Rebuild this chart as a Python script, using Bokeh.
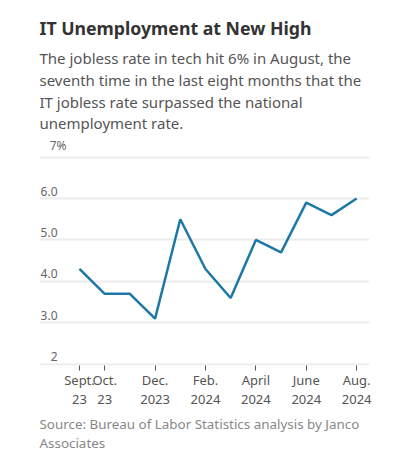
from bokeh.plotting import figure
from bokeh.models import Title, FixedTicker, Range1d
from bokeh.core.properties import value
from bokeh.embed import file_html
from bokeh.resources import INLINE

months = ["Sep 2023", "Oct 2023", "Nov 2023", "Dec 2023", "Jan 2024", "Feb 2024",
          "Mar 2024", "Apr 2024", "May 2024", "Jun 2024", "Jul 2024", "Aug 2024"]
rate = [4.3, 3.7, 3.7, 3.1, 5.5, 4.3, 3.6, 5.0, 4.7, 5.9, 5.6, 6.0]
tick_idx = [0, 1, 3, 5, 7, 9, 11]
tick_labels = ["Sept.\n23", "Oct.\n23", "Dec.\n2023", "Feb.\n2024", "April\n2024", "June\n2024", "Aug.\n2024"]
y_ticks = [2, 3, 4, 5, 6, 7]
y_tick_labels = ["2", "3.0", "4.0", "5.0", "6.0", "7%"]

title = "IT Unemployment at New High"
subtitle = ["The jobless rate in tech hit 6% in August, the",
            "seventh time in the last eight months that the",
            "IT jobless rate surpassed the national",
            "unemployment rate."]
source = ["Source: Bureau of Labor Statistics analysis by Janco", "Associates"]

FONT = "Noto Sans"
x = list(range(len(months)))

p = figure(width=392, height=458, output_backend="svg", toolbar_location=None,
           x_range=Range1d(-1.587, 11.51), y_range=Range1d(1.97, 7.40),
           y_axis_location=None, min_border_left=39, min_border_right=23,
           min_border_top=140, min_border_bottom=0)
p.outline_line_color = None
p.background_fill_color = "white"
p.border_fill_color = "white"
p.xgrid.grid_line_color = None
p.ygrid.ticker = FixedTicker(ticks=y_ticks)
p.ygrid.grid_line_color = "#ececec"
p.ygrid.grid_line_width = 2

ax = p.xaxis[0]
ax.ticker = FixedTicker(ticks=tick_idx)
ax.major_label_overrides = {i: l for i, l in zip(tick_idx, tick_labels)}
ax.axis_line_color = None
ax.major_tick_in = 0
ax.major_tick_out = 5
ax.major_tick_line_color = "#555555"
ax.minor_tick_line_color = None
ax.major_label_text_font = FONT
ax.major_label_text_font_size = "13px"
ax.major_label_text_color = "#555555"
ax.major_label_text_line_height = 1.08
ax.major_label_standoff = 0

p.line(x, rate, line_color="#1d78a8", line_width=2.5)

p.text(x=[-1.587] * len(y_ticks), y=y_ticks, text=y_tick_labels, text_font=value(FONT),
       text_font_size="12px", text_color="#666666", text_baseline="bottom",
       text_align="right", x_offset=[18, 18, 18, 18, 18, 27], y_offset=-3)

p.add_layout(Title(text="\n".join(subtitle), text_font=FONT, text_font_size="15px",
                   text_font_style="normal", text_color="#555555", align="left",
                   text_line_height=1.09, standoff=14), "above")
p.add_layout(Title(text=title, text_font=FONT, text_font_size="17.7px",
                   text_font_style="bold", text_color="#333333", align="left",
                   standoff=0), "above")
p.add_layout(Title(text="\n".join(source), text_font=FONT, text_font_size="13.4px",
                   text_font_style="normal", text_color="#888888", align="left",
                   text_line_height=1.05, standoff=9, vertical_align="top"), "below")

open("out.html", "w").write(file_html(p, INLINE))
